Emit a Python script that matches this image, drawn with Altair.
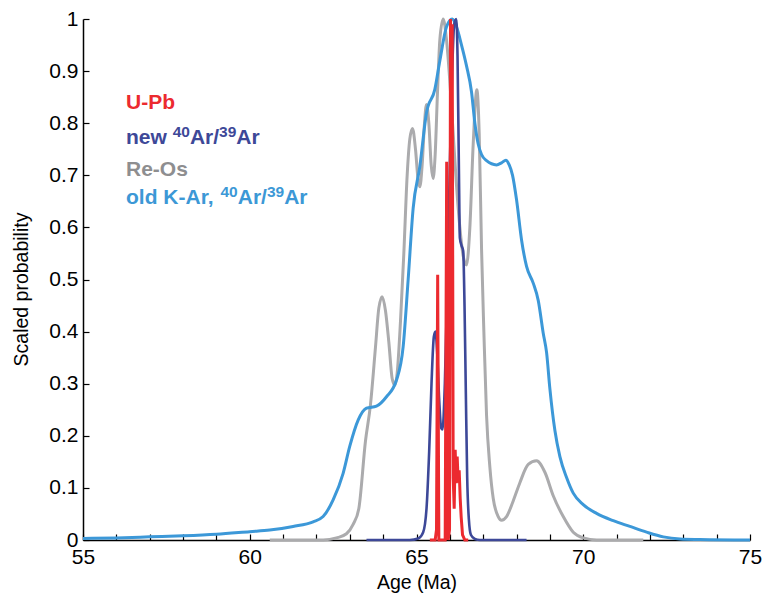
import altair as alt
import pandas as pd

# ---------------- data ----------------
blue_age = [55.0, 56.0, 57.0, 58.0, 59.0, 60.0, 60.6, 61.3, 61.9, 62.2, 62.5, 62.8, 63.0, 63.25, 63.5, 63.8,
            64.1, 64.4, 64.6, 64.75, 64.9, 65.1, 65.3, 65.55, 65.7, 65.9, 66.07, 66.2, 66.35, 66.5, 66.65,
            66.75, 66.85, 66.95, 67.1, 67.4, 67.55, 67.68, 67.78, 67.88, 68.0, 68.15, 68.3, 68.5, 68.65,
            68.8, 68.9, 69.0, 69.15, 69.3, 69.5, 69.7, 70.0, 70.4, 70.9, 71.4, 71.9, 72.4, 72.9, 73.5, 75.0]
blue_p = [0.003, 0.004, 0.006, 0.008, 0.011, 0.016, 0.019, 0.026, 0.035, 0.045, 0.077, 0.128, 0.18, 0.23,
          0.253, 0.257, 0.275, 0.307, 0.371, 0.5, 0.637, 0.717, 0.82, 0.865, 0.92, 0.985, 1.0, 0.985, 0.95,
          0.91, 0.86, 0.8, 0.76, 0.74, 0.728, 0.72, 0.724, 0.729, 0.72, 0.7, 0.653, 0.576, 0.525, 0.493,
          0.46, 0.397, 0.36, 0.29, 0.21, 0.16, 0.12, 0.09, 0.068, 0.051, 0.037, 0.026, 0.015, 0.006,
          0.002, 0.001, 0.0]

gray_age = [60.6, 62.2, 62.6, 62.9, 63.1, 63.27, 63.47, 63.62, 63.77, 63.87, 63.97, 64.07, 64.17, 64.27,
            64.35, 64.42, 64.52, 64.62, 64.72, 64.8, 64.88, 64.97, 65.05, 65.1, 65.17, 65.24, 65.3, 65.37,
            65.44, 65.5, 65.56, 65.63, 65.7, 65.8, 65.9, 66.0, 66.1, 66.2, 66.3, 66.4, 66.5, 66.6, 66.7,
            66.81, 66.88, 66.95, 67.02, 67.1, 67.2, 67.3, 67.45, 67.55, 67.7, 67.9, 68.1, 68.35, 68.6,
            68.85, 69.1, 69.4, 69.7, 70.0, 70.4, 71.8]
gray_p = [0.0, 0.0, 0.004, 0.012, 0.03, 0.06, 0.19, 0.26, 0.37, 0.445, 0.467, 0.44, 0.38, 0.31, 0.297,
          0.32, 0.42, 0.55, 0.7, 0.77, 0.79, 0.75, 0.69, 0.678, 0.72, 0.8, 0.836, 0.8, 0.72, 0.694, 0.74,
          0.86, 0.96, 1.0, 0.96, 0.88, 0.78, 0.68, 0.6, 0.545, 0.528, 0.6, 0.76, 0.864, 0.78, 0.56, 0.4,
          0.24, 0.14, 0.08, 0.045, 0.038, 0.045, 0.075, 0.11, 0.145, 0.152, 0.13, 0.085, 0.045, 0.015,
          0.004, 0.0, 0.0]

navy_age = [63.5, 64.8, 65.05, 65.2, 65.3, 65.38, 65.45, 65.52, 65.57, 65.62, 65.68, 65.74, 65.78,
            65.85, 65.93, 66.0, 66.07, 66.13, 66.19, 66.23, 66.27, 66.3, 66.35, 66.4, 66.44, 66.48, 66.52,
            66.57, 66.63, 66.75, 66.9, 68.3]
navy_p = [0.0, 0.0, 0.003, 0.015, 0.06, 0.17, 0.3, 0.39, 0.4, 0.36, 0.27, 0.215, 0.212, 0.3, 0.5, 0.72,
          0.9, 0.99, 1.0, 0.93, 0.72, 0.58, 0.565, 0.555, 0.45, 0.28, 0.12, 0.04, 0.01, 0.002, 0.0, 0.0]

red_age = [65.40, 65.56, 65.60, 65.635, 65.67, 65.72, 65.80, 65.86, 65.905, 65.95, 65.99, 66.02, 66.045,
           66.07, 66.10, 66.13, 66.16, 66.19, 66.22, 66.25, 66.28, 66.31, 66.34, 66.38, 66.45, 66.55]
red_p = [0.0, 0.0, 0.02, 0.509, 0.0, 0.0, 0.0, 0.0, 0.726, 0.0, 0.02, 1.0, 0.55, 0.99, 0.12, 0.06, 0.173,
         0.109, 0.16, 0.11, 0.134, 0.08, 0.044, 0.01, 0.0, 0.0]

x_tick_values = list(range(55, 76))          # minor + major ticks
x_label_step = 5                              # labels on 55, 60, 65, 70, 75
y_tick_values = [0.0, 0.1, 0.2, 0.3, 0.4, 0.5, 0.6, 0.7, 0.8, 0.9, 1.0]

# legend rows: list of (text piece, is_superscript)
legend_rows = [
    [("U-Pb", False)],
    [("new", False), ("40", True), ("Ar/", False), ("39", True), ("Ar", False)],
    [("Re-Os", False)],
    [("old K-Ar,", False), ("40", True), ("Ar/", False), ("39", True), ("Ar", False)],
]
legend_colors = ["#EC2A2F", "#3D4898", "#8E8E90", "#3C98D6"]

# ---------------- layout ----------------
W, H = 667, 521
FONT = "Liberation Sans"
MAIN_FS, SUP_FS = 21, 15.5

xscale = alt.Scale(domain=[55, 75], nice=False, zero=False)
yscale = alt.Scale(domain=[0, 1], nice=False)

x_axis = alt.Axis(values=x_tick_values, title="Age (Ma)", grid=False,
                  labelExpr=f"datum.value % {x_label_step} == 0 ? datum.label : ''",
                  ticks=True, tickSize=alt.ExprRef(expr="-6"), tickColor="black", tickWidth=1.2,
                  domainColor="black", domainWidth=1.5, labelFont=FONT, labelFontSize=21,
                  labelColor="black", labelPadding=12, labelFlush=False, labelOverlap=False,
                  titleFont=FONT, titleFontSize=19.5, titleFontWeight="normal", titleColor="black",
                  titlePadding=6)
y_axis = alt.Axis(values=y_tick_values, format="~g", title="Scaled probability", grid=False,
                  ticks=True, tickSize=alt.ExprRef(expr="-6"), tickColor="black", tickWidth=1.2,
                  domainColor="black", domainWidth=1.5, labelFont=FONT,
                  labelFontSize=21, labelColor="black", labelPadding=11, labelFlush=False,
                  labelOverlap=False,
                  titleFont=FONT, titleFontSize=19.5, titleFontWeight="normal", titleColor="black",
                  titlePadding=17, titleY=270)


def curve(age, p, color, width, interp):
    df = pd.DataFrame({"age": age, "p": p})
    return alt.Chart(df).mark_line(color=color, strokeWidth=width, interpolate=interp,
                                   clip=False).encode(
        x=alt.X("age:Q", scale=xscale, axis=x_axis),
        y=alt.Y("p:Q", scale=yscale, axis=y_axis),
    )


gray = curve(gray_age, gray_p, "#ABABAD", 3, "monotone")
blue = curve(blue_age, blue_p, "#3C98D8", 3, "monotone")
navy = curve(navy_age, navy_p, "#3D4898", 2.6, "monotone")
red = curve(red_age, red_p, "#EC2A2F", 3, "linear")

# legend text (pieces laid out with Arial-compatible advance widths)
ADV = {"U": .722, "-": .333, "P": .667, "b": .611, "n": .611, "e": .556, "w": .778, "A": .722,
       "r": .389, "/": .278, "R": .722, "O": .778, "s": .556, "o": .611, "l": .278, "d": .611,
       " ": .278, "K": .722, ",": .278, "4": .556, "0": .556, "3": .556, "9": .556}
legend_baseline = [90, 125, 157, 185]
texts = []
for row, col, base in zip(legend_rows, legend_colors, legend_baseline):
    x = 43.0
    for i, (piece, sup) in enumerate(row):
        fs = SUP_FS if sup else MAIN_FS
        texts.append(
            alt.Chart(pd.DataFrame({"label": [piece]})).mark_text(
                align="left", baseline="alphabetic", font=FONT, fontWeight="bold", fontSize=fs,
                color=col).encode(text="label:N", x=alt.value(x), y=alt.value(base - 7 if sup else base))
        )
        x += sum(ADV.get(c, 0.6) for c in piece) * fs
        if i == 0 and len(row) > 1:
            x += ADV[" "] * MAIN_FS

chart = alt.layer(gray, blue, navy, red, *texts).properties(
    width=W, height=H,
    autosize=alt.AutoSizeParams(type="none"),
    padding={"left": 83, "top": 19, "right": 14, "bottom": 63},
).configure_view(stroke=None)

chart.save("out.html", embed_options={"renderer": "svg", "actions": False})
